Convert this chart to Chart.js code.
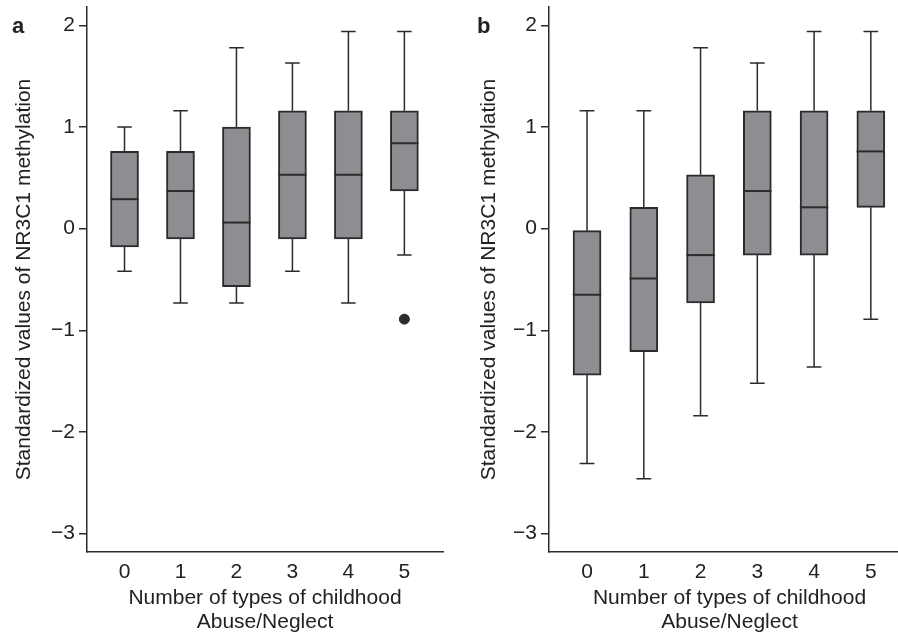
<!DOCTYPE html>
<html>
<head>
<meta charset="utf-8">
<script src="https://cdn.jsdelivr.net/npm/chart.js@4.4.0/dist/chart.umd.min.js"></script>
<style>
	html, body { margin: 0; padding: 0; background: #fff; overflow: hidden; }
	.panel { position: absolute; top: 0; height: 634px; }
	#panelA { left: 0; width: 449px; }
	#panelB { left: 449px; width: 463px; }
</style>
</head>
<body>
<div class="panel" id="panelA"><canvas id="chartA"></canvas></div>
<div class="panel" id="panelB"><canvas id="chartB"></canvas></div>
<script>
const categories = [0, 1, 2, 3, 4, 5];
const yTicks = [-3, -2, -1, 0, 1, 2];

// panel a
const aLower = [-0.42, -0.73, -0.73, -0.42, -0.73, -0.26];
const aQ1 = [-0.18, -0.10, -0.57, -0.10, -0.10, 0.37];
const aMedian = [0.29, 0.37, 0.06, 0.53, 0.53, 0.84];
const aQ3 = [0.76, 0.76, 1.00, 1.16, 1.16, 1.16];
const aUpper = [1.00, 1.16, 1.78, 1.63, 1.94, 1.94];
const aOutliers = [{ x: 5, y: -0.89 }];

// panel b
const bLower = [-2.31, -2.46, -1.84, -1.52, -1.36, -0.89];
const bQ1 = [-1.44, -1.21, -0.73, -0.26, -0.26, 0.21];
const bMedian = [-0.65, -0.49, -0.26, 0.37, 0.21, 0.76];
const bQ3 = [-0.02, 0.21, 0.53, 1.16, 1.16, 1.16];
const bUpper = [1.16, 1.16, 1.78, 1.63, 1.94, 1.94];
const bOutliers = [];

const ink = '#2b2b2b';
const boxFill = '#8d8e92';
const font = "'Liberation Sans', Arial, sans-serif";

// whiskers, caps and medians drawn through the chart's scales
const whiskerPlugin = {
	id: 'whiskers',
	beforeDatasetsDraw(chart) {
		const w = chart.options.plugins.whiskers;
		const x = chart.scales.x, y = chart.scales.y;
		const ctx = chart.ctx;
		ctx.save();
		ctx.strokeStyle = ink;
		ctx.lineWidth = 1.5;
		categories.forEach((c, i) => {
			const cx = x.getPixelForValue(c);
			const capL = x.getPixelForValue(c - 0.13), capR = x.getPixelForValue(c + 0.13);
			ctx.beginPath();
			ctx.moveTo(cx, y.getPixelForValue(w.q3[i]));
			ctx.lineTo(cx, y.getPixelForValue(w.upper[i]));
			ctx.moveTo(cx, y.getPixelForValue(w.q1[i]));
			ctx.lineTo(cx, y.getPixelForValue(w.lower[i]));
			ctx.moveTo(capL, y.getPixelForValue(w.upper[i]));
			ctx.lineTo(capR, y.getPixelForValue(w.upper[i]));
			ctx.moveTo(capL, y.getPixelForValue(w.lower[i]));
			ctx.lineTo(capR, y.getPixelForValue(w.lower[i]));
			ctx.stroke();
		});
		ctx.restore();
	},
	afterDatasetsDraw(chart) {
		const w = chart.options.plugins.whiskers;
		const x = chart.scales.x, y = chart.scales.y;
		const ctx = chart.ctx;
		ctx.save();
		ctx.strokeStyle = ink;
		ctx.lineWidth = 2;
		categories.forEach((c, i) => {
			const my = y.getPixelForValue(w.median[i]);
			ctx.beginPath();
			ctx.moveTo(x.getPixelForValue(c - 0.25), my);
			ctx.lineTo(x.getPixelForValue(c + 0.25), my);
			ctx.stroke();
		});
		ctx.restore();
	},
	afterDraw(chart) {
		const w = chart.options.plugins.whiskers;
		const ctx = chart.ctx;
		ctx.save();
		ctx.fillStyle = '#222';
		ctx.font = 'bold 22px ' + font;
		ctx.textBaseline = 'alphabetic';
		ctx.fillText(w.label, w.labelX, 33);
		ctx.restore();
	}
};

function makePanel(id, opts) {
	return new Chart(document.getElementById(id), {
		data: {
			datasets: [
				{
					type: 'bar',
					data: categories.map((c, i) => ({ x: c, y: [opts.q1[i], opts.q3[i]] })),
					backgroundColor: boxFill,
					borderColor: ink,
					borderWidth: 2,
					borderSkipped: false,
					barThickness: 28,
				},
				{
					type: 'scatter',
					data: opts.outliers,
					backgroundColor: ink,
					borderColor: ink,
					pointRadius: 5,
				},
			],
		},
		options: {
			responsive: true,
			maintainAspectRatio: false,
			animation: false,
			layout: {
				padding: { top: 7, right: 2, bottom: 0, left: 0 }
			},
			plugins: {
				legend: false,
				tooltip: { enabled: false },
				whiskers: opts,
			},
			scales: {
				x: {
					type: 'linear',
					offset: false,
					min: -0.67,
					max: 5.69,
					afterBuildTicks: s => { s.ticks = categories.map(v => ({ value: v })); },
					afterFit: s => { s.height = 82; s.paddingLeft = 0; s.paddingRight = 0; },
					grid: { display: false },
					border: { display: true, color: ink, width: 1.5 },
					ticks: {
						color: '#222',
						padding: 0,
						font: { family: font, size: 21 },
					},
					title: {
						display: true,
						text: ['Number of types of childhood', 'Abuse/Neglect'],
						color: '#222',
						padding: { top: 0, bottom: 0 },
						font: { family: font, size: 21, lineHeight: '24px' },
					},
				},
				y: {
					min: -3.18,
					max: 2.18,
					afterBuildTicks: s => { s.ticks = yTicks.map(v => ({ value: v })); },
					afterFit: s => { s.width = opts.axisLeft; s.paddingTop = 0; s.paddingBottom = 0; },
					grid: {
						drawOnChartArea: false,
						drawTicks: true,
						tickLength: 8,
						color: ink,
						lineWidth: 1.5,
					},
					border: { display: true, color: ink, width: 1.5 },
					ticks: {
						color: '#222',
						padding: 4,
						font: { family: font, size: 21 },
						callback: v => v < 0 ? '\u2212' + Math.abs(v) : String(v),
					},
					title: {
						display: true,
						text: 'Standardized values of NR3C1 methylation',
						color: '#222',
						padding: { top: opts.titlePad, bottom: 0 },
						font: { family: font, size: 21, lineHeight: '24px' },
					},
				},
			},
		},
		plugins: [whiskerPlugin],
	});
}

makePanel('chartA', {
	lower: aLower, q1: aQ1, median: aMedian, q3: aQ3, upper: aUpper, outliers: aOutliers,
	axisLeft: 87, titlePad: 12, label: 'a', labelX: 12,
});

makePanel('chartB', {
	lower: bLower, q1: bQ1, median: bMedian, q3: bQ3, upper: bUpper, outliers: bOutliers,
	axisLeft: 100, titlePad: 28, label: 'b', labelX: 28,
});
</script>
</body>
</html>
